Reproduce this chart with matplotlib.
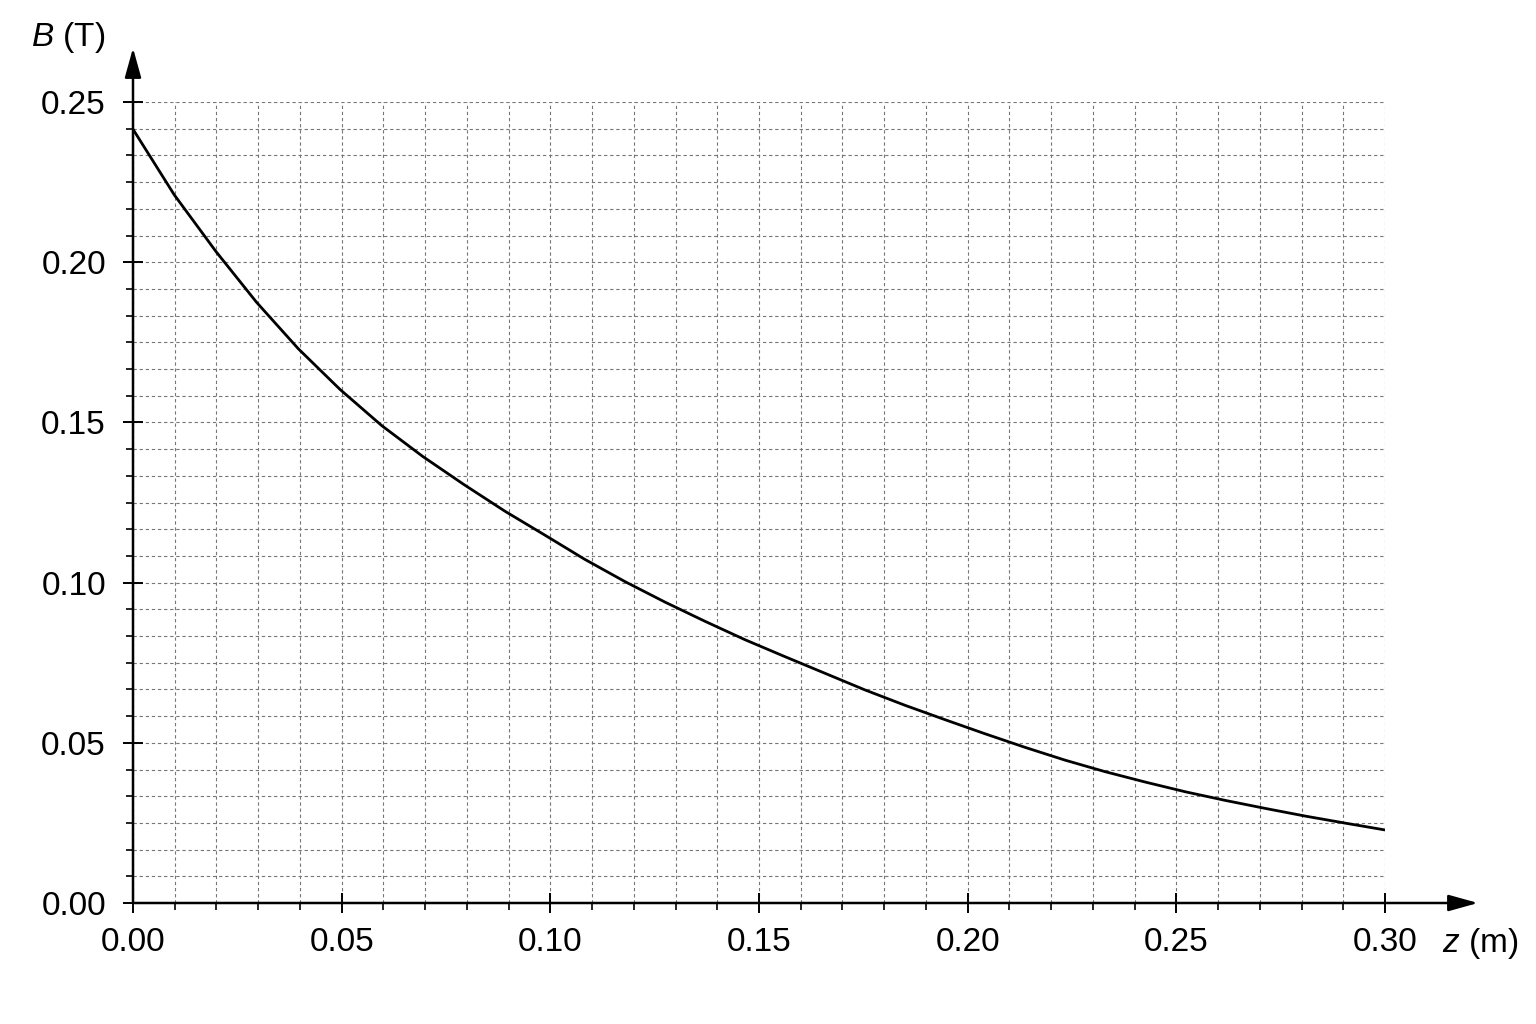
import numpy as np
import matplotlib
matplotlib.use("Agg")
import matplotlib.pyplot as plt
from matplotlib.ticker import MultipleLocator, FixedLocator

plt.rcParams['font.family'] = ['Liberation Sans', 'DejaVu Sans']
plt.rcParams['mathtext.fontset'] = 'custom'
plt.rcParams['mathtext.rm'] = 'Liberation Sans'
plt.rcParams['mathtext.it'] = 'Liberation Sans:italic'

# data
z = [0.000, 0.0099, 0.0199, 0.0296, 0.0396, 0.0496, 0.0596, 0.0694, 0.0793, 0.0891,
     0.0991, 0.1082, 0.1179, 0.1275, 0.1371, 0.1466, 0.1562, 0.1658, 0.1754, 0.1850,
     0.1946, 0.2042, 0.2137, 0.2233, 0.2329, 0.2427, 0.2522, 0.2618, 0.2714, 0.2810,
     0.2906, 0.3000]
B = [0.2415, 0.2210, 0.2033, 0.1875, 0.1730, 0.1603, 0.1490, 0.1394, 0.1306, 0.1223,
     0.1145, 0.1073, 0.1003, 0.0939, 0.0879, 0.0822, 0.0769, 0.0717, 0.0665, 0.0617,
     0.0572, 0.0528, 0.0486, 0.0446, 0.0410, 0.0377, 0.0347, 0.0320, 0.0295, 0.0271,
     0.0249, 0.0228]

x_ticks = [0.00, 0.05, 0.10, 0.15, 0.20, 0.25, 0.30]
y_ticks = [0.00, 0.05, 0.10, 0.15, 0.20, 0.25]
x_labels = ["0.00", "0.05", "0.10", "0.15", "0.20", "0.25", "0.30"]
y_labels = ["0.00", "0.05", "0.10", "0.15", "0.20", "0.25"]

fig = plt.figure(figsize=(15.36, 10.24), dpi=100)
fig.patch.set_facecolor('white')
ax = fig.add_axes([133/1536, 1 - 903/1024, 1252/1536, 801/1024])

ax.plot(z, B, color='black', lw=2.0, zorder=3, solid_joinstyle='round')

ax.set_xlim(0, 0.30)
ax.set_ylim(0, 0.25)

ax.xaxis.set_major_locator(FixedLocator(x_ticks))
ax.yaxis.set_major_locator(FixedLocator(y_ticks))
ax.set_xticklabels(x_labels)
ax.set_yticklabels(y_labels)
ax.xaxis.set_minor_locator(MultipleLocator(0.01))
ax.yaxis.set_minor_locator(MultipleLocator(0.05 / 6))

ax.tick_params(which='major', direction='inout', length=15, width=1.4, labelsize=24, color='black')
ax.tick_params(axis='x', which='major', pad=10)
ax.tick_params(axis='y', which='major', pad=12)
ax.tick_params(which='minor', direction='out', length=5, width=1.2, color='black')

ax.grid(which='both', color='#777777', lw=0.8, linestyle=(0, (3, 2.5)))
ax.set_axisbelow(True)

for s in ax.spines.values():
    s.set_visible(False)

arrow = dict(arrowstyle='-|>,head_length=0.9,head_width=0.25', lw=1.8,
             color='black', shrinkA=0, shrinkB=0, mutation_scale=20)
ax.annotate('', xy=(0, (903 - 48) / 801), xytext=(0, 0), xycoords='axes fraction',
            textcoords='axes fraction', arrowprops=arrow, annotation_clip=False)
ax.annotate('', xy=((1478 - 133) / 1252, 0), xytext=(0, 0), xycoords='axes fraction',
            textcoords='axes fraction', arrowprops=arrow, annotation_clip=False)

ax.text(-0.052, 1.080, r'$B$ (T)', transform=ax.transAxes, fontsize=24,
        ha='center', va='center')
ax.text(1.076, -0.051, r'$z$ (m)', transform=ax.transAxes, fontsize=24,
        ha='center', va='center')

fig.savefig('out.png', dpi=100, facecolor='white')
